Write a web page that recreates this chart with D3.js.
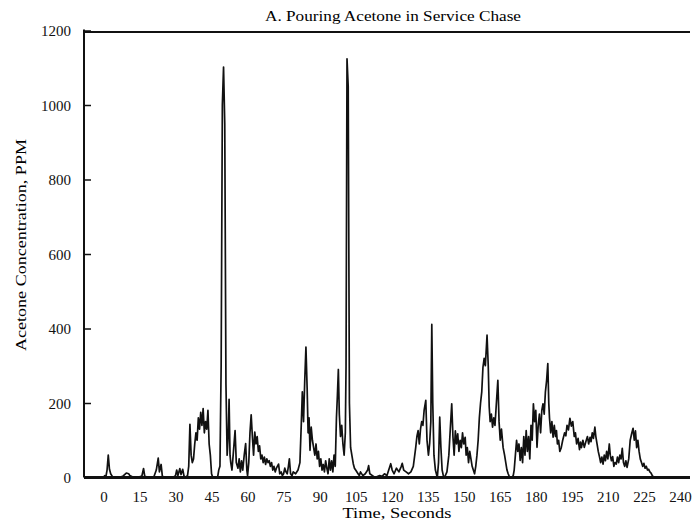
<!DOCTYPE html>
<meta charset="utf-8">
<style>
  body { margin: 0; background: #fff; }
  .tick line { stroke: #111; stroke-width: 1.5px; }
  .trace { fill: none; stroke: #111; stroke-width: 1.7px; stroke-linejoin: round; }
  .frame { stroke: #111; fill: none; }
</style>
<body>
<div id="vis"></div>
<script src="https://cdn.jsdelivr.net/npm/d3@7"></script>
<script>

const title = 'A. Pouring Acetone in Service Chase';
const xTitle = 'Time, Seconds';
const yTitle = 'Acetone Concentration, PPM';

const xTicks = [0, 15, 30, 45, 60, 75, 90, 105, 120, 135, 150, 165, 180, 195, 210, 225, 240];
const yTicks = [0, 200, 400, 600, 800, 1000, 1200];

// seconds / ppm
const secs = [
  0, 0.5, 1, 1.5, 2, 2.5, 3, 3.5, 4, 6, 8, 9.5, 10.5, 11, 12, 14, 16, 16.7, 17.2, 19,
  21, 22, 22.8, 23.3, 24, 24.5, 25, 29, 30, 30.5, 31, 31.8, 32.3, 33, 33.5, 34, 35, 35.5,
  36, 36.5, 37, 37.5, 38, 38.5, 39, 39.5, 40, 40.5, 41, 41.5, 42, 42.5, 43, 43.5, 44, 44.5, 45, 45.5,
  47.5, 48, 48.5, 49, 49.5, 50, 50.5, 51, 51.5, 52, 52.3, 52.7, 53, 53.5, 54, 54.8, 55.3, 56, 56.5, 57,
  57.5, 58, 58.6, 59.2, 59.7, 60, 60.5, 61, 61.5, 62, 62.5, 63, 63.5, 64, 64.5, 65, 65.5, 66, 66.5, 67,
  67.5, 68, 68.5, 69, 69.5, 70, 70.5, 71, 71.5, 72, 72.9, 73.4, 74, 74.5, 75, 75.5, 76, 76.5, 77, 77.4,
  77.9, 78.5, 79, 80, 81, 81.8, 82.4, 82.8, 83.3, 83.8, 84.3, 84.8, 85.2, 85.6, 86, 86.5, 87, 87.5, 88, 88.5,
  89, 89.5, 90, 90.5, 91, 91.5, 92, 92.5, 93, 93.5, 94, 94.5, 95, 95.5, 96, 96.5, 97, 97.4, 97.8, 98.2,
  98.7, 99.2, 99.7, 100.2, 100.7, 101, 101.4, 101.9, 102.4, 102.9, 104, 104.5, 105, 106, 106.5, 107, 108, 109, 110, 110.4,
  110.9, 112, 113, 115, 116, 117, 118, 119, 119.6, 120.2, 121, 122, 123, 124, 124.4, 125, 126, 127, 128, 129,
  130, 130.5, 131, 131.5, 132, 132.5, 133, 133.5, 134.2, 134.7, 135.3, 135.8, 136.3, 136.7, 137.1, 137.6, 138.2, 139, 139.5, 140,
  140.5, 141, 141.5, 142, 143, 143.8, 144.4, 145, 145.5, 146, 146.5, 147, 147.5, 148, 148.5, 149, 149.5, 150, 150.6, 151,
  151.5, 152, 152.5, 153, 153.5, 154, 154.5, 155, 155.5, 156, 156.5, 157, 157.5, 158, 158.5, 159, 159.7, 160.2, 160.6, 161,
  161.5, 162, 162.5, 163, 163.5, 164.2, 164.7, 165.2, 165.7, 166.4, 167, 167.5, 168, 168.5, 169, 170, 170.6, 171, 171.5, 172,
  172.5, 173, 173.5, 174, 174.5, 175, 175.5, 176, 176.5, 177, 177.5, 178, 178.5, 179, 179.5, 180, 180.5, 181, 181.5, 182,
  182.5, 183, 183.5, 184, 184.5, 185, 185.4, 185.7, 186.2, 186.7, 187.2, 187.7, 188.2, 188.6, 189, 189.5, 190, 190.6, 191.2, 192,
  192.5, 193, 193.6, 194.2, 194.8, 195.4, 196, 196.5, 197, 197.6, 198.2, 198.6, 199, 199.6, 200.2, 200.8, 201.5, 202, 202.6, 203,
  203.5, 204, 204.6, 205, 205.5, 206, 206.5, 207, 207.5, 208, 208.5, 209, 209.5, 210, 210.6, 211, 211.5, 212, 212.5, 213,
  213.5, 214, 214.5, 215, 215.5, 216, 216.5, 217, 217.5, 218, 218.7, 219.3, 220, 220.5, 221, 221.5, 222, 222.5, 223, 223.5,
  224, 224.5, 225, 225.5, 226, 226.5, 227, 227.5, 228, 228.5, 229, 229.5, 244
];
const ppm = [
  0, 5, 2, 20, 60, 22, 10, 5, 0, 0, 3, 12, 10, 5, 2, 0, 4, 24, 3, 0,
  2, 20, 52, 15, 35, 5, 0, 0, 5, 20, 5, 24, 8, 22, 5, 0, 5, 30,
  143, 60, 40, 50, 90, 120, 100, 160, 130, 175, 140, 185, 120, 150, 130, 180, 90, 60, 10, 0,
  0, 20, 30, 300, 1000, 1102, 950, 250, 60, 120, 210, 60, 40, 20, 60, 126, 40, 25, 50, 15,
  45, 20, 60, 91, 20, 5, 40, 120, 168, 110, 60, 122, 90, 110, 70, 85, 50, 60, 40, 55,
  35, 50, 40, 45, 30, 40, 20, 30, 15, 25, 36, 10, 15, 5, 10, 25, 15, 10, 30, 50,
  10, 5, 15, 10, 20, 40, 150, 230, 150, 260, 350, 240, 120, 160, 73, 135, 100, 80, 60, 90,
  50, 70, 30, 50, 20, 35, 15, 45, 25, 10, 50, 20, 45, 15, 60, 30, 160, 220, 290, 170,
  110, 140, 90, 60, 120, 300, 1124, 1050, 200, 80, 37, 25, 20, 10, 5, 15, 5, 10, 20, 32,
  10, 5, 0, 5, 3, 10, 5, 25, 37, 20, 10, 25, 15, 30, 38, 20, 15, 10, 15, 30,
  80, 110, 126, 90, 130, 150, 140, 180, 207, 100, 60, 91, 150, 411, 200, 60, 20, 0, 40, 162,
  80, 20, 5, 0, 15, 60, 130, 198, 110, 60, 125, 90, 117, 70, 100, 80, 120, 90, 108, 60,
  80, 40, 70, 50, 30, 20, 10, 30, 60, 100, 160, 200, 230, 296, 320, 300, 382, 300, 190, 150,
  170, 135, 160, 140, 190, 261, 150, 100, 130, 80, 60, 40, 20, 10, 2, 0, 5, 20, 60, 100,
  70, 90, 46, 80, 40, 110, 60, 126, 70, 110, 50, 140, 100, 198, 150, 180, 81, 140, 170, 120,
  180, 198, 170, 230, 260, 306, 200, 160, 120, 150, 108, 140, 110, 126, 90, 100, 70, 80, 100, 120,
  112, 140, 128, 159, 138, 150, 110, 120, 90, 105, 75, 95, 80, 100, 81, 95, 110, 90, 108, 96,
  120, 105, 135, 110, 90, 70, 56, 40, 55, 36, 60, 45, 70, 50, 90, 60, 45, 56, 30, 40,
  36, 55, 40, 60, 50, 78, 40, 30, 45, 27, 50, 100, 120, 132, 100, 125, 80, 100, 70, 50,
  40, 30, 38, 25, 30, 20, 22, 15, 12, 5, 2, 0, 0
];

const width = 692,
    height = 526;
const serif = '"Liberation Serif", "DejaVu Serif", serif';

const x = d3.scaleLinear().domain([-8.1, 244.2]).range([84, 690]);
const y = d3.scaleLinear().domain([0, 1200]).range([477.5, 30.5]);

const svg = d3.select('#vis')
    .append('svg')
    .attr('width', width)
    .attr('height', height);

const data = secs.map((s, i) => ({t: s, v: ppm[i]}));

// trace
svg.append('path')
    .datum(data)
    .attr('class', 'trace')
    .attr('d', d3.line().x(d => x(d.t)).y(d => y(d.v)));

// frame: left, top, bottom
svg.append('line').attr('class', 'frame')
    .attr('x1', x.range()[0]).attr('x2', x.range()[0])
    .attr('y1', y(1200) - 1).attr('y2', y(0))
    .style('stroke-width', 2);
svg.append('line').attr('class', 'frame')
    .attr('x1', x.range()[0]).attr('x2', x.range()[1])
    .attr('y1', y(1200) + 1.5).attr('y2', y(1200) + 1.5)
    .style('stroke-width', 2);
svg.append('line').attr('class', 'frame')
    .attr('x1', x.range()[0]).attr('x2', x.range()[1])
    .attr('y1', y(0)).attr('y2', y(0))
    .style('stroke-width', 3);

const yAxis = svg.append('g')
    .attr('transform', 'translate(' + x.range()[0] + ',0)')
    .call(d3.axisLeft(y).tickValues(yTicks).tickFormat(d3.format('d'))
      .tickSizeInner(-7).tickSizeOuter(0).tickPadding(13));
yAxis.select('.domain').remove();
yAxis.selectAll('.tick text').attr('dy', '0.34em');

const xAxis = svg.append('g')
    .attr('transform', 'translate(0,' + y(0) + ')')
    .call(d3.axisBottom(x).tickValues(xTicks).tickFormat(d3.format('d'))
      .tickSize(0).tickPadding(14));
xAxis.select('.domain').remove();

svg.selectAll('.tick text')
    .style('font-family', serif)
    .style('font-size', '15px')
    .style('fill', '#111');

svg.append('text')
    .attr('x', 393)
    .attr('y', 21)
    .attr('text-anchor', 'middle')
    .style('font-family', serif)
    .style('font-size', '15px')
    .attr('textLength', 256)
    .attr('lengthAdjust', 'spacingAndGlyphs')
    .text(title);

svg.append('text')
    .attr('x', 397)
    .attr('y', 518)
    .attr('text-anchor', 'middle')
    .style('font-family', serif)
    .style('font-size', '15px')
    .attr('textLength', 109)
    .attr('lengthAdjust', 'spacingAndGlyphs')
    .text(xTitle);

svg.append('text')
    .attr('transform', 'translate(26,245) rotate(-90)')
    .attr('text-anchor', 'middle')
    .style('font-family', serif)
    .style('font-size', '15px')
    .attr('textLength', 212)
    .attr('lengthAdjust', 'spacingAndGlyphs')
    .text(yTitle);

</script>
</body>
